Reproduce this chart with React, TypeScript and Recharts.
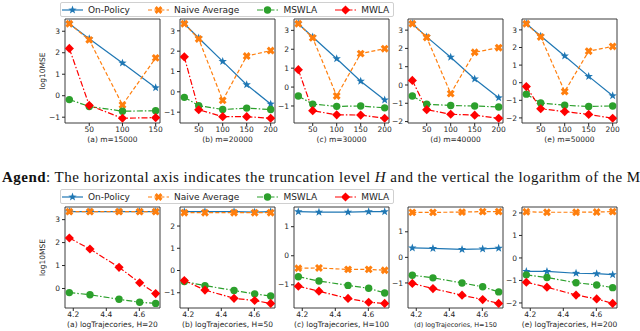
import React from "react";
import { LineChart, Line, XAxis, YAxis, ReferenceArea } from "recharts";

const H_LEVELS = [20, 50, 100, 150, 200];
const M_SIZES = [15000, 20000, 30000, 40000, 50000];
// panel (a) of the top row stops at H=150
const TOP_H_COUNT = [4, 5, 5, 5, 5];
const PANEL_LETTERS = ["a", "b", "c", "d", "e"];

// log10MSE, rows = truncation level H, columns = m
const ON_POLICY = [
  [3.35, 3.35, 3.35, 3.35, 3.35],
  [2.65, 2.65, 2.65, 2.63, 2.65],
  [1.52, 1.5, 1.5, 1.52, 1.52],
  [0.37, 0.35, 0.31, 0.33, 0.36],
  [-0.6, -0.6, -0.68, -0.7, -0.74],
];
const NAIVE = [
  [3.35, 3.35, 3.35, 3.35, 3.35],
  [2.6, 2.6, 2.6, 2.6, 2.6],
  [-0.43, -0.42, -0.47, -0.47, -0.5],
  [1.76, 1.76, 1.77, 1.79, 1.79],
  [2.05, 2.03, 2.03, 2.04, 2.06],
];
const MSWLA = [
  [-0.18, -0.27, -0.47, -0.6, -0.65],
  [-0.5, -0.68, -0.9, -1.05, -1.15],
  [-0.72, -0.87, -1.02, -1.12, -1.28],
  [-0.7, -0.8, -1.0, -1.15, -1.35],
  [-0.75, -0.87, -1.1, -1.2, -1.32],
];
const MWLA = [
  [2.2, 1.72, 0.92, 0.25, -0.22],
  [-0.45, -0.88, -1.25, -1.35, -1.48],
  [-1.05, -1.22, -1.47, -1.6, -1.64],
  [-1.02, -1.22, -1.48, -1.65, -1.8],
  [-1.08, -1.3, -1.65, -1.82, -2.02],
];

const TOP_X_TICKS = [50, 100, 150, 200];
const BOTTOM_X_TICKS = [4.2, 4.4, 4.6];

const SERIES = [
  { key: "on", name: "On-Policy", color: "#1f77b4", dash: undefined, marker: "star", values: ON_POLICY },
  { key: "naive", name: "Naive Average", color: "#ff7f0e", dash: "4 2.2", marker: "x", values: NAIVE },
  { key: "mswla", name: "MSWLA", color: "#2ca02c", dash: "6 2 1.5 2", marker: "circle", values: MSWLA },
  { key: "mwla", name: "MWLA", color: "#ff0000", dash: "6 2 1.5 2", marker: "diamond", values: MWLA },
];

const PANEL_LEFT = [65, 180, 294, 408, 522];
const PLOT_W = 95;
const FONT = "'DejaVu Sans', sans-serif";
const INK = "#262626";

const fmtNum = (v: number) => (v < 0 ? `\u2212${-v}` : `${v}`);

function padDomain(vals: number[]): [number, number] {
  const lo = Math.min(...vals);
  const hi = Math.max(...vals);
  const m = (hi - lo) * 0.05;
  return [lo - m, hi + m];
}

function Marker({ kind, cx, cy, color }: { kind: string; cx: number; cy: number; color: string }) {
  if (cx == null || cy == null) return null;
  if (kind === "circle") return <circle cx={cx} cy={cy} r={3.7} fill={color} />;
  if (kind === "diamond") {
    const d = 4.6;
    return <polygon points={`${cx},${cy - d} ${cx + d},${cy} ${cx},${cy + d} ${cx - d},${cy}`} fill={color} />;
  }
  if (kind === "star") {
    const pts: string[] = [];
    for (let i = 0; i < 10; i++) {
      const r = i % 2 === 0 ? 4.4 : 1.8;
      const a = (-90 + i * 36) * (Math.PI / 180);
      pts.push(`${cx + r * Math.cos(a)},${cy + r * Math.sin(a)}`);
    }
    return <polygon points={pts.join(" ")} fill={color} />;
  }
  // filled "X"
  const s = 4.1, w = 1.5;
  const plus = [
    [-w, -s], [w, -s], [w, -w], [s, -w], [s, w], [w, w],
    [w, s], [-w, s], [-w, w], [-s, w], [-s, -w], [-w, -w],
  ];
  const c = Math.SQRT1_2;
  const pts = plus.map(([x, y]) => `${cx + (x - y) * c},${cy + (x + y) * c}`).join(" ");
  return <polygon points={pts} fill={color} />;
}

type Row = { x: number; [k: string]: number };

function Panel({
  rows, xDomain, xTicks, xFmt, left, top, plotH, caption, captionSize, yLabel,
}: {
  rows: Row[]; xDomain: [number, number]; xTicks: number[]; xFmt: (v: number) => string;
  left: number; top: number; plotH: number; caption: string; captionSize: number; yLabel: boolean;
}) {
  const yDomain = padDomain(rows.flatMap((r) => SERIES.map((s) => r[s.key])));
  const yTicks: number[] = [];
  for (let v = Math.ceil(yDomain[0]); v <= Math.floor(yDomain[1]); v++) yTicks.push(v);
  const YW = yLabel ? 45 : 30;
  const MT = 4, MR = 4, XH = 24;
  return (
    <div style={{ position: "absolute", left: left - YW, top: top - MT }}>
      <LineChart
        width={YW + PLOT_W + MR}
        height={MT + plotH + XH}
        data={rows}
        margin={{ top: MT, right: MR, left: 0, bottom: 0 }}
        style={{ fontFamily: FONT }}
      >
        <XAxis
          type="number"
          dataKey="x"
          domain={xDomain}
          ticks={xTicks.filter((t) => t >= xDomain[0] && t <= xDomain[1])}
          allowDataOverflow
          interval={0}
          tickFormatter={xFmt}
          tickSize={3}
          tickMargin={1}
          axisLine={false}
          tickLine={{ stroke: INK }}
          tick={{ fontSize: 7.5, fill: INK }}
          height={XH}
          label={{ value: caption, position: "insideBottom", offset: 5, fontSize: captionSize, fill: INK }}
        />
        <YAxis
          type="number"
          domain={yDomain}
          ticks={yTicks}
          allowDataOverflow
          interval={0}
          tickFormatter={fmtNum}
          tickSize={3}
          tickMargin={2}
          axisLine={false}
          tickLine={{ stroke: INK }}
          tick={{ fontSize: 7.5, fill: INK }}
          width={YW}
          label={yLabel ? { value: "log10MSE", angle: -90, position: "center", fontSize: 7.5, fill: INK } : undefined}
        />
        <ReferenceArea
          x1={xDomain[0]} x2={xDomain[1]} y1={yDomain[0]} y2={yDomain[1]}
          fill="none" stroke={INK} strokeWidth={0.9} fillOpacity={0} ifOverflow="visible"
        />
        {SERIES.map((s) => (
          <Line
            key={s.key}
            dataKey={s.key}
            stroke={s.color}
            strokeWidth={1.2}
            strokeDasharray={s.dash}
            dot={(p: any) => (
              <Marker key={`${s.key}-${p.index}`} kind={s.marker} cx={p.cx} cy={p.cy} color={s.color} />
            )}
            activeDot={false}
            isAnimationActive={false}
          />
        ))}
      </LineChart>
    </div>
  );
}

function LegendBox({ top }: { top: number }) {
  return (
    <div
      style={{
        position: "absolute", left: 60, top, height: 15, width: 334,
        border: "1px solid #d0d0d0", borderRadius: 2, background: "rgba(255,255,255,0.85)",
        display: "flex", alignItems: "center", fontFamily: FONT, fontSize: 9, color: INK,
        boxSizing: "border-box", paddingLeft: 1, zIndex: 2,
      }}
    >
      {SERIES.map((s) => (
        <div key={s.key} style={{ display: "flex", alignItems: "center", marginRight: 18, whiteSpace: "nowrap" }}>
          <svg width={21} height={12} style={{ marginRight: 5 }}>
            <line x1={0} y1={6} x2={21} y2={6} stroke={s.color} strokeWidth={1.2} strokeDasharray={s.dash} />
            <Marker kind={s.marker} cx={10.5} cy={6} color={s.color} />
          </svg>
          {s.name}
        </div>
      ))}
    </div>
  );
}

export default function App() {
  const topX = (n: number) => padDomain(H_LEVELS.slice(0, n));
  const logM = M_SIZES.map((m) => Math.log10(m));
  const bottomX = padDomain(logM);

  return (
    <div style={{ position: "absolute", left: 0, top: 0, width: 640, height: 331, overflow: "hidden", background: "#fff" }}>
      <LegendBox top={2} />
      {M_SIZES.map((m, j) => {
        const n = TOP_H_COUNT[j];
        const rows: Row[] = H_LEVELS.slice(0, n).map((h, i) => {
          const r: Row = { x: h };
          SERIES.forEach((s) => (r[s.key] = s.values[i][j]));
          return r;
        });
        return (
          <Panel
            key={m}
            rows={rows}
            xDomain={topX(n)}
            xTicks={TOP_X_TICKS}
            xFmt={(v) => `${v}`}
            left={PANEL_LEFT[j]}
            top={19}
            plotH={104}
            caption={`(${PANEL_LETTERS[j]}) m=${m}`}
            captionSize={7.5}
            yLabel={j === 0}
          />
        );
      })}

      <div
        style={{
          position: "absolute", left: 2, top: 170, whiteSpace: "nowrap", letterSpacing: "0.47px",
          fontFamily: "'Liberation Serif', serif", fontSize: 15, lineHeight: "15px", color: "#111",
        }}
      >
        <b>Agend</b>: The horizontal axis indicates the truncation level <i>H</i> and the vertical the logarithm of the M
      </div>

      <LegendBox top={189} />
      {H_LEVELS.map((h, i) => {
        const rows: Row[] = logM.map((lm, j) => {
          const r: Row = { x: lm };
          SERIES.forEach((s) => (r[s.key] = s.values[i][j]));
          return r;
        });
        return (
          <Panel
            key={h}
            rows={rows}
            xDomain={bottomX}
            xTicks={BOTTOM_X_TICKS}
            xFmt={(v) => v.toFixed(1)}
            left={PANEL_LEFT[i]}
            top={207}
            plotH={101}
            caption={`(${PANEL_LETTERS[i]}) logTrajecories, H=${h}`}
            captionSize={i === 3 ? 6.5 : 7.5}
            yLabel={i === 0}
          />
        );
      })}
    </div>
  );
}
